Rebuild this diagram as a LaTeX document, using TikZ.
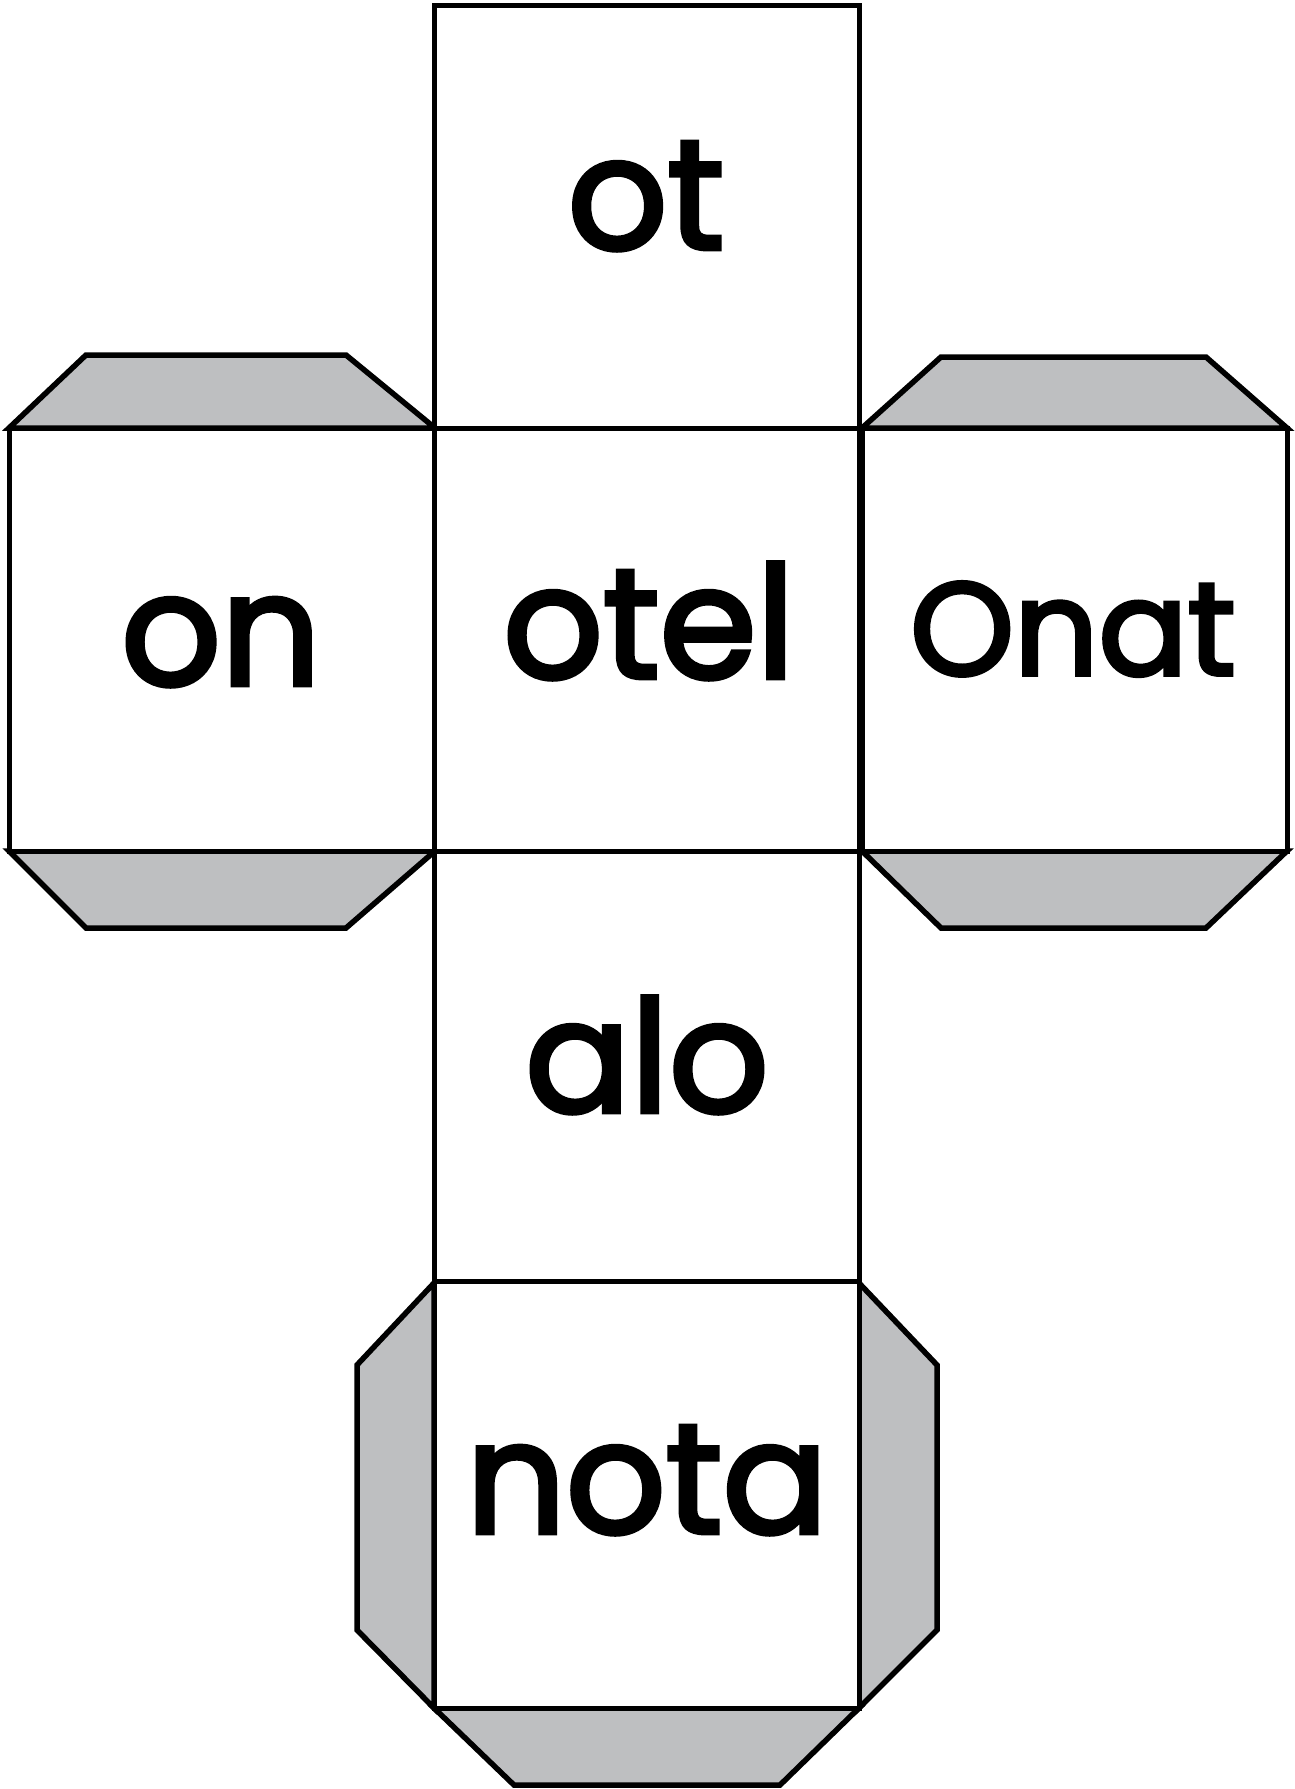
\documentclass[tikz,border=0pt]{standalone}
\usepackage{fontspec}
\setmainfont{Poppins}
\newfontfamily\wordfont{Poppins}[FakeBold=3]
\definecolor{flapgray}{RGB}{190,191,193}
\tikzset{
  face/.style={draw=black, line width=5pt, fill=white, line join=miter},
  flap/.style={draw=black, line width=5.5pt, fill=flapgray, line join=miter},
  word/.style={anchor=base, inner sep=0pt, font=\wordfont\fontsize{156}{156}\selectfont},
  smallword/.style={anchor=base, inner sep=0pt, font=\wordfont\fontsize{132}{132}\selectfont}
}
\begin{document}
\begin{tikzpicture}[x=1pt, y=-1pt]
\useasboundingbox (0,0) rectangle (1295,1789);
% flaps
\draw[flap] (9,428) -- (86,355) -- (346,355) -- (435,428) -- cycle;
\draw[flap] (862,428) -- (941,357) -- (1206,357) -- (1287,428) -- cycle;
\draw[flap] (9,851) -- (86,928) -- (346,928) -- (435,851) -- cycle;
\draw[flap] (862,851) -- (941,928) -- (1206,928) -- (1287,851) -- cycle;
\draw[flap] (434,1283) -- (357,1365) -- (357,1630) -- (434,1708) -- cycle;
\draw[flap] (859,1283) -- (937,1365) -- (937,1630) -- (859,1708) -- cycle;
\draw[flap] (434,1708) -- (514,1785) -- (780,1785) -- (859,1708) -- cycle;
% faces
\draw[face] (434,5) rectangle (859,428);
\draw[face] (9,428) rectangle (434,851);
\draw[face] (434,428) rectangle (859,851);
\draw[face] (862,428) rectangle (1287,851);
\draw[face] (434,851) rectangle (859,1281);
\draw[face] (434,1281) rectangle (859,1708);
% words
\node[word] (ot) at (646,249) {ot};
\node[word] (on) at (221,685) {on};
\node[word] (otel) at (649,678) {otel};
\node[smallword] (onat) at (1073,675) {Onat};
\node[word] (alo) at (647,1112) {alo};
\node[word] (nota) at (647,1533) {nota};
\end{tikzpicture}
\end{document}
